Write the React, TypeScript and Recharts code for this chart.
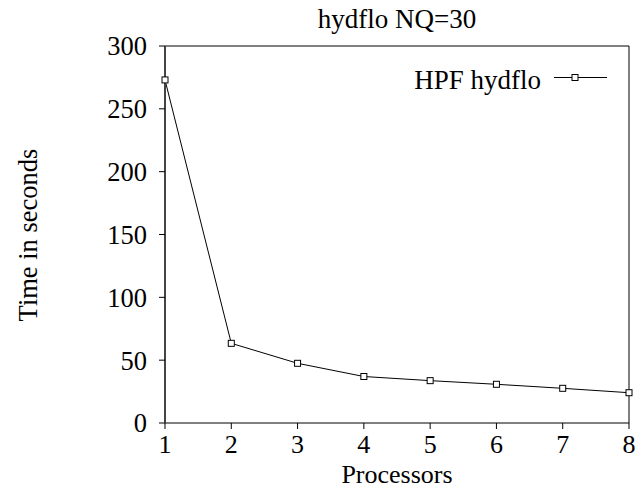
import React from 'react';
import { LineChart, Line, XAxis, YAxis, ReferenceLine, Legend, Label } from 'recharts';

const processors = [1, 2, 3, 4, 5, 6, 7, 8];
const hpfHydflo = [273, 63.4, 47.5, 37, 33.7, 30.8, 27.6, 24.1];
const yTicks = [0, 50, 100, 150, 200, 250, 300];
const xTicks = [1, 2, 3, 4, 5, 6, 7, 8];
const seriesName = 'HPF hydflo';
const titleText = 'hydflo NQ=30';
const xLabel = 'Processors';
const yLabel = 'Time in seconds';

const data = processors.map((p, i) => ({ p, v: hpfHydflo[i] }));

const FONT = 'Liberation Serif, Times New Roman, serif';

const SquareDot = (props: any) => {
  const { cx, cy, index } = props;
  if (cx == null || cy == null) return <g key={index} />;
  return <rect key={index} x={cx - 3} y={cy - 3} width={6} height={6} fill="#fff" stroke="#000" strokeWidth={1} />;
};

const LegendContent = (props: any) => {
  const name = props.payload && props.payload[0] ? props.payload[0].value : seriesName;
  return (
    <svg width={637} height={100} style={{ display: 'block' }}>
      <text x={541} y={89} textAnchor="end" fontFamily={FONT} fontSize={27} fill="#000">{name}</text>
      <line x1={554} x2={607} y1={77.5} y2={77.5} stroke="#000" strokeWidth={1} />
      <rect x={572} y={74.5} width={6} height={6} fill="#fff" stroke="#000" strokeWidth={1} />
    </svg>
  );
};

export default function App() {
  return (
    <div style={{ position: 'absolute', left: 0, top: 0, width: 637, height: 489, background: '#fff', fontFamily: FONT }}>
      <LineChart width={637} height={489} data={data} margin={{ top: 46, right: 8, left: 105, bottom: 26 }}>
        <XAxis
          dataKey="p"
          type="number"
          domain={[1, 8]}
          ticks={xTicks}
          interval={0}
          height={40}
          tickSize={6}
          tickMargin={6}
          axisLine={{ stroke: '#000', strokeWidth: 1 }}
          tickLine={{ stroke: '#000' }}
          tick={{ fill: '#000', fontSize: 26, fontFamily: FONT }}
        >
          <Label
            content={() => (
              <text x={397} y={483} textAnchor="middle" fontFamily={FONT} fontSize={26} fill="#000">{xLabel}</text>
            )}
          />
        </XAxis>
        <YAxis
          type="number"
          domain={[0, 300]}
          ticks={yTicks}
          interval={0}
          width={60}
          tickSize={6}
          tickMargin={12}
          axisLine={{ stroke: '#444', strokeWidth: 2 }}
          tickLine={{ stroke: '#000' }}
          tick={{ fill: '#000', fontSize: 26.5, fontFamily: FONT }}
        >
          <Label
            content={() => (
              <text x={37} y={235} transform="rotate(-90 37 235)" textAnchor="middle" fontFamily={FONT} fontSize={26.5} fill="#000">{yLabel}</text>
            )}
          />
        </YAxis>
        <ReferenceLine y={300} stroke="#000" strokeWidth={1}>
          <Label
            content={() => (
              <text x={397} y={28} textAnchor="middle" fontFamily={FONT} fontSize={27} fill="#000">{titleText}</text>
            )}
          />
        </ReferenceLine>
        <ReferenceLine x={8} stroke="#000" strokeWidth={1} />
        <Legend
          layout="horizontal"
          verticalAlign="middle"
          align="center"
          content={LegendContent}
          wrapperStyle={{ position: 'absolute', top: 0, left: 0, width: 637, height: 100, margin: 0, padding: 0 }}
        />
        <Line
          type="linear"
          dataKey="v"
          name={seriesName}
          stroke="#000"
          strokeWidth={1}
          dot={SquareDot}
          activeDot={false}
          isAnimationActive={false}
        />
      </LineChart>
    </div>
  );
}
